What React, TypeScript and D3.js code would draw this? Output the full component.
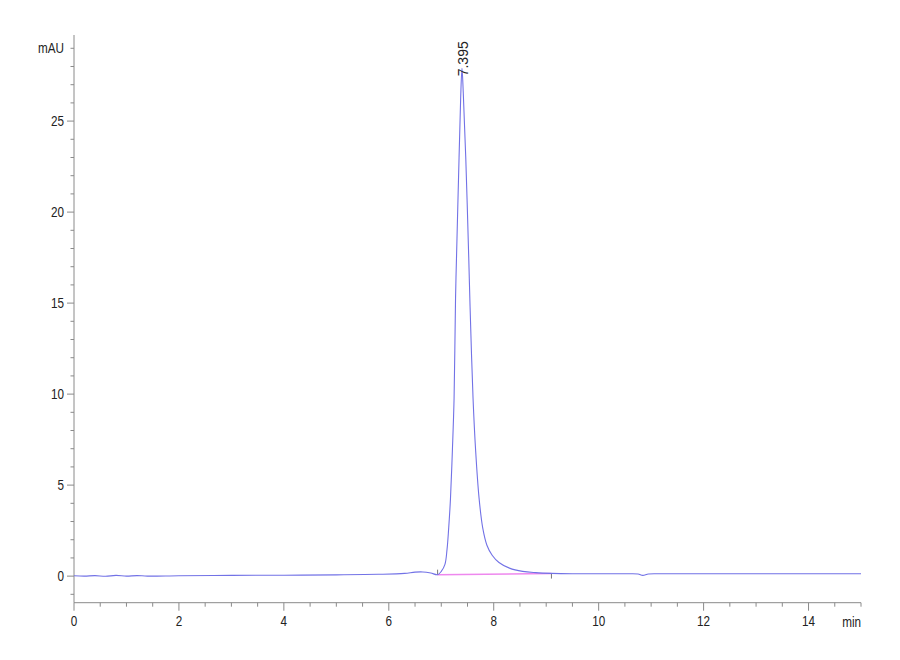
import React from "react";
import * as d3 from "d3";

const times = [0, 0.2, 0.4, 0.6, 0.8, 1.0, 1.2, 1.4, 2, 3, 4, 5, 5.8, 6.3, 6.5, 6.65, 6.8, 6.93, 7.0, 7.07, 7.11, 7.14, 7.175, 7.213, 7.244, 7.272, 7.29, 7.339, 7.37, 7.395, 7.42, 7.467, 7.524, 7.549, 7.606, 7.655, 7.72, 7.79, 7.87, 7.97, 8.1, 8.3, 8.55, 8.8, 9.1, 9.5, 10.5, 10.75, 10.84, 10.95, 11.2, 12, 13, 14, 15];
const signal = [0.02, 0.0, 0.03, -0.01, 0.04, 0.0, 0.03, 0.0, 0.02, 0.04, 0.05, 0.07, 0.1, 0.15, 0.22, 0.23, 0.17, 0.08, 0.26, 0.645, 1.47, 2.57, 4.23, 6.99, 9.75, 15.26, 17.46, 22.98, 26.3, 27.9, 26.5, 22.98, 17.46, 14.8, 9.75, 6.9, 4.3, 2.65, 1.7, 1.15, 0.75, 0.44, 0.26, 0.19, 0.15, 0.13, 0.13, 0.12, 0.04, 0.12, 0.13, 0.13, 0.13, 0.13, 0.13];

const baselineTimes = [6.93, 9.1];
const baselineValues = [0.08, 0.14];

const peakTime = 7.395;
const peakLabel = "7.395";
const peakHeight = 27.9;

const xMajorTicks = [0, 2, 4, 6, 8, 10, 12, 14];
const yMajorTicks = [0, 5, 10, 15, 20, 25];
const xUnit = "min";
const yUnit = "mAU";

const W = 900;
const H = 660;

export default function App() {
  const x = d3.scaleLinear().domain([0, 15]).range([74, 861]);
  const y = d3.scaleLinear().domain([-1.46, 29.73]).range([602.7, 35]);

  const pts: [number, number][] = times.map((t, i) => [t, signal[i]]);
  const line = d3
    .line<[number, number]>()
    .x((d) => x(d[0]))
    .y((d) => y(d[1]))
    .curve(d3.curveCatmullRom.alpha(0.5));

  const xMinor = d3.range(0, 15.001, 0.5).filter((v) => !xMajorTicks.includes(v));
  const yMinor = d3.range(-1, 29.5, 1).filter((v) => !yMajorTicks.includes(v));

  const axisColor = "#8a8a8a";
  const textColor = "#222";
  const font = "'Liberation Sans', Arial, sans-serif";
  const sx = 0.78;

  const x0 = x(0);
  const yAxisBottom = y(-1.46);

  const label = (tx: number, ty: number, s: string, anchor: string) => (
    <text
      transform={`translate(${tx},${ty}) scale(${sx},1)`}
      textAnchor={anchor}
      dominantBaseline="central"
      fontFamily={font}
      fontSize={15}
      fill={textColor}
    >
      {s}
    </text>
  );

  return (
    <svg
      width={W}
      height={H}
      style={{ position: "absolute", left: 0, top: 0, background: "#fff" }}
    >
      <rect x={0} y={0} width={W} height={H} fill="#fff" />
      {/* y axis */}
      <line x1={x0} x2={x0} y1={y(29.73)} y2={yAxisBottom} stroke={axisColor} strokeWidth={1} />
      {yMajorTicks.map((v) => (
        <g key={"ym" + v}>
          <line x1={x0 - 7} x2={x0} y1={y(v)} y2={y(v)} stroke={axisColor} />
          {label(x0 - 10, y(v), String(v), "end")}
        </g>
      ))}
      {yMinor.map((v) => (
        <line key={"yn" + v} x1={x0 - 3.5} x2={x0} y1={y(v)} y2={y(v)} stroke={axisColor} />
      ))}
      {label(x0 - 10, y(29), yUnit, "end")}

      {/* x axis */}
      <line x1={x0} x2={x(15)} y1={yAxisBottom} y2={yAxisBottom} stroke={axisColor} strokeWidth={1} />
      {xMajorTicks.map((v) => (
        <g key={"xm" + v}>
          <line x1={x(v)} x2={x(v)} y1={yAxisBottom} y2={yAxisBottom + 8} stroke={axisColor} />
          {label(x(v), 621, String(v), "middle")}
        </g>
      ))}
      {xMinor.map((v) => (
        <line key={"xn" + v} x1={x(v)} x2={x(v)} y1={yAxisBottom} y2={yAxisBottom + 4} stroke={axisColor} />
      ))}
      {label(x(15), 622, xUnit, "end")}

      {/* integration baseline */}
      <line
        x1={x(baselineTimes[0])}
        x2={x(baselineTimes[1])}
        y1={y(baselineValues[0])}
        y2={y(baselineValues[1])}
        stroke="#ee88ee"
        strokeWidth={1.5}
      />
      <line
        x1={x(baselineTimes[0])}
        x2={x(baselineTimes[0])}
        y1={y(baselineValues[0]) - 5}
        y2={y(baselineValues[0])}
        stroke="#555"
        strokeWidth={0.8}
      />
      <line
        x1={x(baselineTimes[1])}
        x2={x(baselineTimes[1])}
        y1={y(baselineValues[1])}
        y2={y(baselineValues[1]) + 5}
        stroke="#555"
        strokeWidth={0.8}
      />

      {/* signal */}
      <path d={line(pts) ?? ""} fill="none" stroke="#7272e6" strokeWidth={1.1} />

      {/* peak label */}
      <text
        transform={`translate(${x(peakTime) + 1},${y(peakHeight) + 8}) rotate(-90)`}
        textAnchor="start"
        dominantBaseline="central"
        fontFamily={font}
        fontSize={14}
        fill={textColor}
      >
        {peakLabel}
      </text>
    </svg>
  );
}
